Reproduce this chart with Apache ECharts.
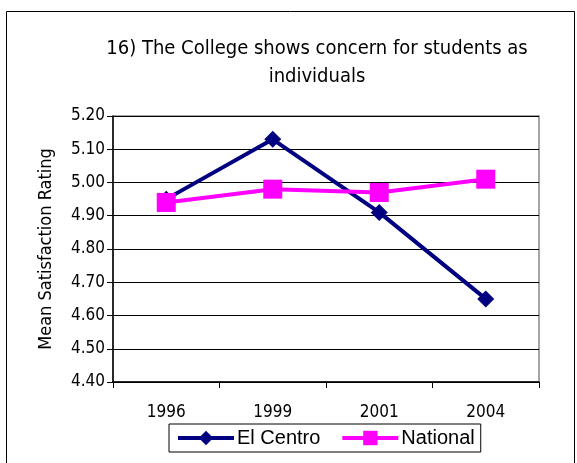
<!DOCTYPE html>
<html><head><meta charset="utf-8">
<style>html,body{margin:0;padding:0;background:#fff}#c{width:577px;height:463px}</style>
<script src="https://cdn.jsdelivr.net/npm/echarts@6/dist/echarts.min.js"></script>
</head><body><div id="c"></div>
<script>
const categories = ['1996', '1999', '2001', '2004'];
const elCentro = [4.95, 5.13, 4.91, 4.65];
const national = [4.94, 4.98, 4.97, 5.01];
const titleText = '16) The College shows concern for students as\nindividuals';
const yName = 'Mean Satisfaction Rating';
const narrow = '"Liberation Sans Narrow", "DejaVu Sans Condensed", "Arial Narrow", sans-serif';
const chart = echarts.init(document.getElementById('c'));
chart.setOption({
  animation: false,
  backgroundColor: '#fff',
  graphic: [{type: 'rect', shape: {x: 6.5, y: 11.5, width: 568, height: 470}, style: {fill: 'none', stroke: '#000', lineWidth: 1}, z: -1}],
  title: {text: titleText, left: 312, top: 30, textAlign: 'center',
    textStyle: {fontFamily: narrow, fontSize: 20, fontWeight: 'normal', color: '#000', lineHeight: 28}},
  grid: {left: 113, top: 116, width: 426, height: 266, show: true, borderColor: '#888', borderWidth: 1.5, backgroundColor: '#fff'},
  legend: {top: 424, left: 169, itemWidth: 56, itemHeight: 18, itemGap: 20,
    borderColor: '#000', borderWidth: 1, padding: [4, 6, 4, 7],
    textStyle: {fontFamily: '"Liberation Sans", Arial, sans-serif', fontSize: 20, color: '#000', padding: [0, 0, 0, -2]},
    data: [
      {name: 'El Centro', lineStyle: {width: 4}},
      {name: 'National', lineStyle: {width: 4}}
    ]},
  xAxis: {type: 'category', data: categories, boundaryGap: true,
    axisLine: {lineStyle: {color: '#000', width: 1.5}},
    axisTick: {show: true, length: 6, lineStyle: {color: '#000'}},
    axisLabel: {fontFamily: narrow, fontSize: 17, color: '#000', margin: 22}},
  yAxis: {type: 'value', min: 4.4, max: 5.2, interval: 0.1,
    name: yName, nameLocation: 'middle', nameGap: 58,
    nameTextStyle: {fontFamily: narrow, fontSize: 18, color: '#000'},
    axisLine: {show: true, lineStyle: {color: '#000', width: 1.5}},
    axisTick: {show: true, length: 6, lineStyle: {color: '#000'}},
    axisLabel: {fontFamily: narrow, fontSize: 17, color: '#000', margin: 8, formatter: v => v.toFixed(2)},
    splitLine: {lineStyle: {color: '#000', width: 1}}},
  series: [
    {name: 'El Centro', type: 'line', data: elCentro, symbol: 'diamond', symbolSize: 17,
      lineStyle: {color: '#000080', width: 4}, itemStyle: {color: '#000080'}, z: 2},
    {name: 'National', type: 'line', data: national, symbol: 'rect', symbolSize: 19,
      lineStyle: {color: '#ff00ff', width: 4}, itemStyle: {color: '#ff00ff'}, z: 3}
  ]
});
</script></body></html>
